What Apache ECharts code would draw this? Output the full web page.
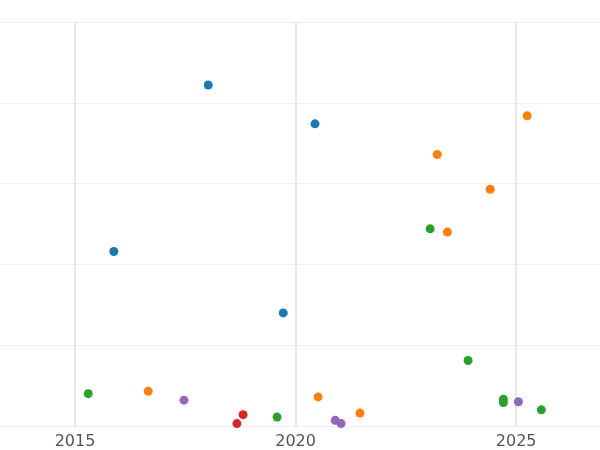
<!DOCTYPE html>
<html><head><meta charset="utf-8">
<script src="https://cdn.jsdelivr.net/npm/echarts@6/dist/echarts.min.js"></script>
<style>html,body{margin:0;padding:0;background:#fff}#c{width:600px;height:450px}</style>
</head><body><div id="c"></div>
<script>
const xTicks = [2015, 2020, 2025];
const blue = [[2015.88,2.16],[2018.02,4.22],[2020.44,3.74],[2019.72,1.40]];
const orange = [[2016.66,0.43],[2020.51,0.36],[2021.46,0.16],[2023.21,3.36],[2023.44,2.40],[2024.41,2.93],[2025.25,3.84]];
const green = [[2015.30,0.40],[2019.58,0.11],[2023.05,2.44],[2023.91,0.81],[2024.71,0.33],[2024.71,0.29],[2025.57,0.20]];
const red = [[2018.81,0.14],[2018.67,0.03]];
const purple = [[2017.47,0.32],[2020.90,0.07],[2021.03,0.03],[2025.05,0.30]];
const colors = ['#1f77b4','#ff7f0e','#2ca02c','#d62728','#9467bd'];
const groups = [blue, orange, green, red, purple];
const series = groups.map((d,i)=>({
  type:'scatter', data:d, symbolSize:9, itemStyle:{color:colors[i],opacity:1}, clip:false, z:3
}));
series[0].markLine = {silent:true, symbol:'none', label:{show:false},
  lineStyle:{color:'#e8e8e8', width:2, type:'solid'},
  data: xTicks.map(v=>({xAxis:v})), z:1};
const chart = echarts.init(document.getElementById('c'));
chart.setOption({
  animation:false,
  grid:{left:0,right:0,top:22,bottom:22},
  xAxis:{type:'value', min:2013.3, max:2026.9,
    axisLine:{show:false}, axisTick:{show:false}, splitLine:{show:false},
    axisLabel:{customValues:xTicks, formatter:v=>String(v), color:'#555', fontSize:16, margin:8, fontFamily:'DejaVu Sans'}},
  yAxis:{type:'value', min:0, max:5, interval:1,
    axisLine:{show:false}, axisTick:{show:false}, axisLabel:{show:false},
    splitLine:{lineStyle:{color:'#efefef', width:1}}},
  series
});
</script></body></html>
